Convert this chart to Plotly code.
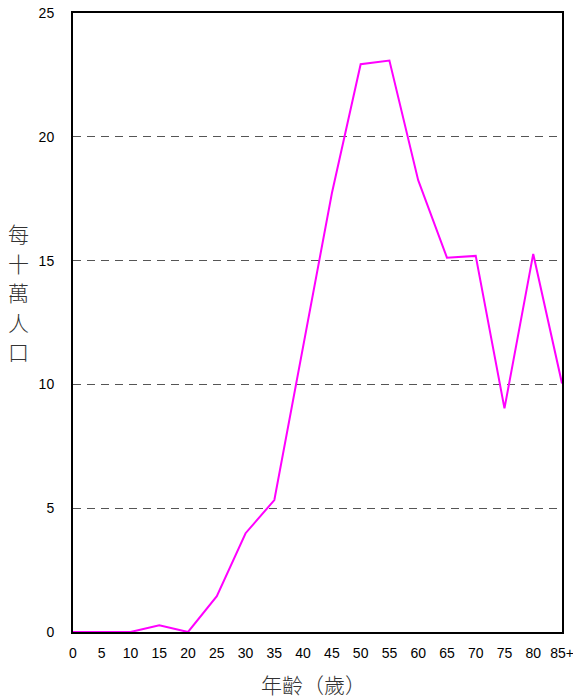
import plotly.graph_objects as go

age_labels = ["0", "5", "10", "15", "20", "25", "30", "35", "40", "45",
              "50", "55", "60", "65", "70", "75", "80", "85+"]
rate_per_100k = [0, 0, 0, 0.27, 0, 1.45, 3.99, 5.33, 11.5, 17.72,
                 22.93, 23.08, 18.25, 15.12, 15.19, 9.03, 15.27, 10.04]
y_ticks = [0, 5, 10, 15, 20, 25]
y_title_chars = ["每", "十", "萬", "人", "口"]
x_title = "年齡（歲）"

x_idx = list(range(len(age_labels)))

fig = go.Figure()
fig.add_trace(go.Scatter(
    x=x_idx, y=rate_per_100k, mode="lines",
    line=dict(color="#FF00FF", width=2),
    hoverinfo="skip", showlegend=False,
))

font_main = "Liberation Sans, Arial, sans-serif"
cjk = "Noto Sans CJK TC, Noto Sans CJK SC, sans-serif"
PL, PT, PW, PH = 73, 13, 489, 619

annotations = []
for i, ch in enumerate(y_title_chars):
    annotations.append(dict(
        text=ch, xref="paper", yref="paper",
        x=(18 - PL) / PW, y=(PT + PH - (233 + 29.5 * i)) / PH,
        xanchor="center", yanchor="middle", showarrow=False,
        font=dict(size=21, family=cjk, color="#333333", weight=300)))
annotations.append(dict(
    text=x_title, xref="paper", yref="paper",
    x=(313 - PL) / PW, y=(PT + PH - 684) / PH,
    xanchor="center", yanchor="middle", showarrow=False,
    font=dict(size=21, family=cjk, color="#333333", weight=300)))

fig.update_layout(
    width=573, height=699,
    margin=dict(l=PL, r=573 - PL - PW, t=PT, b=699 - PT - PH, autoexpand=False),
    paper_bgcolor="white", plot_bgcolor="white",
    font=dict(family=font_main, size=14, color="black"),
    xaxis=dict(
        range=[0, len(age_labels) - 1],
        tickmode="array", tickvals=x_idx, ticktext=age_labels,
        showgrid=False, zeroline=False,
        showline=True, linecolor="black", linewidth=2, mirror=True,
        ticks="", ticklen=0, automargin=False,
        tickfont=dict(size=14, family=font_main),
        ticklabelstandoff=7, ticklabeloverflow="allow",
    ),
    yaxis=dict(
        range=[0, 25],
        tickmode="array", tickvals=y_ticks,
        showgrid=True, gridcolor="#555555", gridwidth=1, griddash="8px,6px",
        zeroline=False,
        showline=True, linecolor="black", linewidth=2, mirror=True,
        ticks="", ticklen=0, automargin=False,
        tickfont=dict(size=14, family=font_main),
        ticklabelstandoff=14, ticklabeloverflow="allow",
    ),
    annotations=annotations,
)

fig.write_html("out.html", config={"displayModeBar": False},
               post_script="document.body.style.margin='0';")
